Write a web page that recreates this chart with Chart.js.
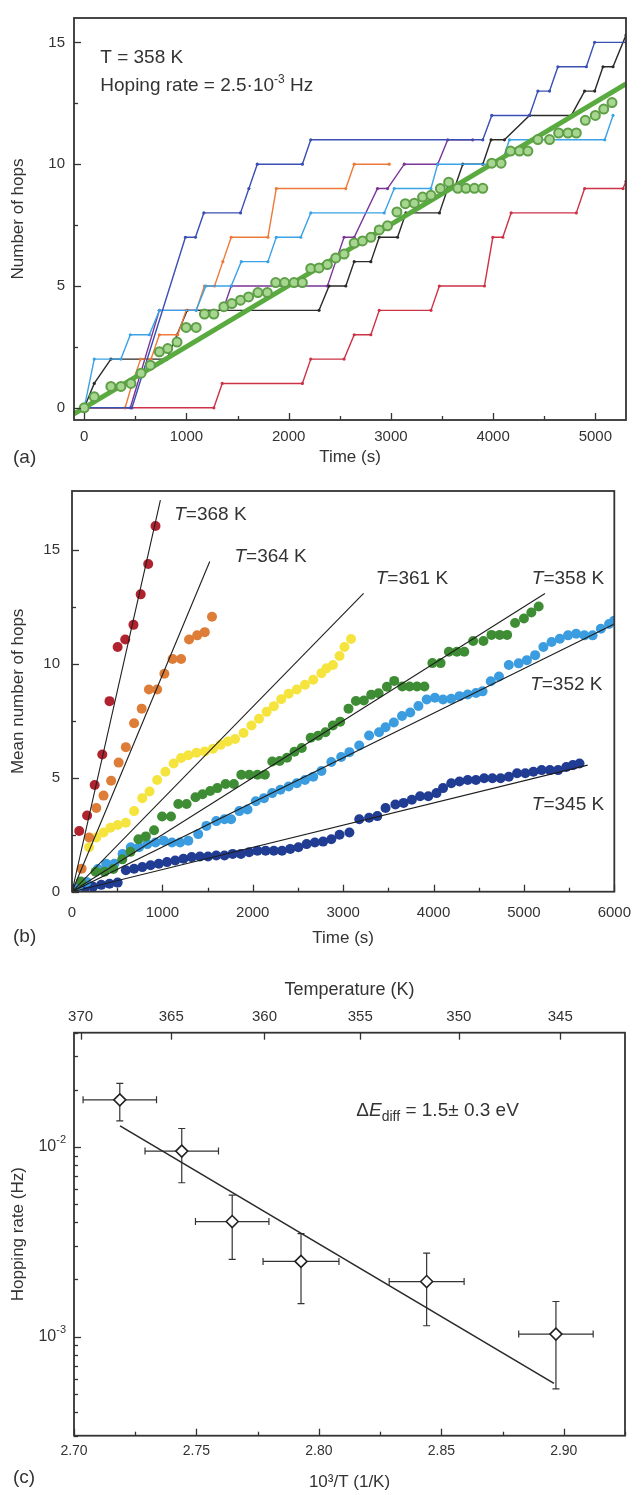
<!DOCTYPE html>
<html>
<head>
<meta charset="utf-8">
<script src="https://cdn.jsdelivr.net/npm/chart.js@4/dist/chart.umd.min.js"></script>
<style>
  body { margin: 0; background: #fff; }
  #wrap { position: relative; width: 643px; height: 1495px; }
  canvas { position: absolute; left: 0; }
</style>
</head>
<body>
<div id="wrap">
  <canvas id="chartA" width="643" height="475" style="top:0"></canvas>
  <canvas id="chartB" width="643" height="490" style="top:470px"></canvas>
  <canvas id="chartC" width="643" height="535" style="top:960px"></canvas>
</div>
<script>
// ---- panel (a): single trajectories at 358 K, time (s) vs hops ----
const redT = [0, 1268, 1350, 2134, 2216, 2542, 2641, 2804, 2886, 3392, 3474, 3915, 3997, 4095, 4176, 4814, 4895, 5271, 5300];
const redN = [0, 0, 1, 1, 2, 2, 3, 3, 4, 4, 5, 5, 7, 7, 8, 8, 9, 9, 9.3];
const purpleT = [0, 451, 735, 1356, 1438, 2379, 2460, 2542, 2641, 2869, 2967, 3131, 3458, 3556, 3800];
const purpleN = [0, 0, 4, 4, 5, 5, 6, 7, 7, 9, 9, 10, 10, 11, 11];
const blackT = [0, 98, 261, 810, 908, 1007, 2297, 2395, 2559, 2641, 2804, 2886, 3065, 3147, 3475, 3556, 3621, 3703, 3899, 3980, 4111, 4356, 4765, 4895, 4994, 5075, 5173, 5300];
const blackN = [0, 1, 2, 2, 3, 4, 4, 5, 5, 6, 6, 7, 7, 8, 8, 9, 9, 10, 10, 11, 11, 12, 12, 13, 13, 14, 14, 15.3];
const orangeT = [0, 400, 470, 552, 654, 735, 915, 997, 1095, 1176, 1275, 1356, 1438, 1797, 1879, 2559, 2641, 2983];
const orangeN = [0, 0, 1, 2, 2, 3, 3, 4, 4, 5, 5, 6, 7, 7, 9, 9, 10, 10];
const lightT = [0, 98, 359, 451, 637, 735, 1095, 1190, 1438, 1536, 1797, 1879, 2118, 2216, 2935, 3033, 3392, 3458, 4078, 4160, 5092, 5173];
const lightN = [0, 2, 2, 3, 3, 4, 4, 5, 5, 6, 6, 7, 7, 8, 8, 9, 9, 10, 10, 11, 11, 12];
const navyT = [0, 467, 990, 1088, 1170, 1529, 1611, 1693, 2134, 2216, 3899, 3987, 4356, 4438, 4552, 4634, 4912, 4993, 5300];
const navyN = [0, 0, 7, 7, 8, 8, 9, 10, 10, 11, 11, 12, 12, 13, 13, 14, 14, 15, 15];
const fitA_T = [-100, 5300];
const fitA_N = [-0.25, 13.3];

// mean number of hops at 358 K (shown in (a) and (b))
const t358 = [0, 98, 261, 359, 457, 556, 647, 735, 817, 908, 997, 1095, 1176, 1268, 1366, 1444, 1529, 1608, 1699, 1791, 1873, 1961, 2052, 2134, 2216, 2297, 2379, 2461, 2542, 2641, 2722, 2804, 2886, 2967, 3059, 3141, 3229, 3310, 3392, 3484, 3565, 3654, 3735, 3817, 3899, 3987, 4078, 4170, 4258, 4340, 4438, 4552, 4641, 4732, 4814, 4902, 5000, 5082, 5163];
const n358 = [0, 0.45, 0.88, 0.88, 1.0, 1.42, 1.75, 2.3, 2.43, 2.7, 3.3, 3.3, 3.85, 3.85, 4.15, 4.28, 4.42, 4.55, 4.73, 4.73, 5.14, 5.14, 5.14, 5.14, 5.72, 5.74, 5.88, 6.15, 6.31, 6.76, 6.85, 7.0, 7.3, 7.47, 8.04, 8.38, 8.4, 8.65, 8.72, 9.0, 9.26, 9.01, 9.01, 9.01, 9.01, 10.04, 10.04, 10.54, 10.54, 10.54, 11.01, 11.01, 11.28, 11.28, 11.28, 11.8, 12.0, 12.26, 12.53];

// ---- panel (b): mean number of hops at each temperature ----
const t368 = [80, 167, 251, 335, 415, 505, 589, 680, 760, 843, 924];
const n368 = [2.67, 3.35, 4.69, 6.03, 8.37, 10.75, 11.08, 11.72, 13.06, 14.39, 16.06];
const t364 = [106, 189, 269, 349, 433, 516, 596, 687, 771, 851, 942, 1022, 1113, 1207, 1295, 1385, 1469, 1549];
const n364 = [1.01, 2.38, 3.68, 4.22, 4.87, 5.67, 6.35, 7.4, 8.04, 8.88, 8.88, 9.57, 10.22, 10.22, 11.08, 11.26, 11.4, 12.08];
const t361 = [189, 269, 349, 425, 505, 596, 687, 778, 858, 942, 1033, 1124, 1207, 1287, 1378, 1469, 1560, 1644, 1724, 1804, 1898, 1985, 2069, 2153, 2233, 2315, 2397, 2487, 2578, 2669, 2760, 2815, 2887, 2960, 3014, 3087];
const n361 = [1.95, 2.38, 2.6, 2.81, 2.93, 3.03, 3.54, 4.11, 4.4, 4.91, 5.27, 5.63, 5.87, 5.99, 6.1, 6.16, 6.28, 6.45, 6.6, 6.71, 6.97, 7.3, 7.6, 7.9, 8.15, 8.45, 8.7, 8.88, 9.09, 9.31, 9.6, 9.81, 9.96, 10.35, 10.75, 11.1];
const t352 = [69, 160, 287, 378, 469, 560, 651, 742, 833, 924, 1015, 1106, 1196, 1287, 1396, 1487, 1596, 1687, 1760, 1851, 1942, 2033, 2124, 2215, 2306, 2397, 2487, 2578, 2669, 2760, 2869, 2978, 3069, 3178, 3287, 3397, 3469, 3560, 3651, 3742, 3833, 3924, 4015, 4105, 4196, 4287, 4378, 4469, 4542, 4633, 4724, 4833, 4942, 5033, 5124, 5215, 5306, 5397, 5488, 5578, 5669, 5760, 5851, 5942, 5997];
const n352 = [0.22, 0.43, 1.0, 1.23, 1.23, 1.66, 1.95, 1.95, 2.09, 2.16, 2.24, 2.16, 2.16, 2.24, 2.53, 2.89, 3.1, 3.18, 3.18, 3.54, 3.61, 3.97, 4.11, 4.33, 4.48, 4.62, 4.76, 4.91, 5.05, 5.3, 5.7, 5.92, 6.13, 6.42, 6.86, 7.0, 7.22, 7.43, 7.72, 7.87, 8.16, 8.44, 8.52, 8.44, 8.47, 8.59, 8.66, 8.73, 8.8, 9.24, 9.45, 9.96, 10.03, 10.17, 10.39, 10.75, 10.97, 11.11, 11.26, 11.33, 11.26, 11.26, 11.55, 11.76, 11.9];
const t345 = [51, 142, 233, 324, 415, 505, 596, 687, 778, 869, 960, 1051, 1142, 1233, 1324, 1415, 1505, 1596, 1687, 1778, 1869, 1960, 2051, 2142, 2233, 2324, 2415, 2505, 2596, 2687, 2778, 2869, 2960, 3069, 3178, 3287, 3378, 3469, 3578, 3669, 3760, 3851, 3942, 4033, 4105, 4196, 4287, 4378, 4469, 4560, 4651, 4742, 4833, 4924, 5015, 5105, 5196, 5287, 5378, 5469, 5542, 5615];
const n345 = [0.07, 0.15, 0.22, 0.3, 0.35, 0.4, 0.94, 1.01, 1.08, 1.16, 1.23, 1.3, 1.37, 1.45, 1.52, 1.55, 1.55, 1.59, 1.59, 1.66, 1.66, 1.73, 1.8, 1.8, 1.8, 1.8, 1.88, 1.95, 2.09, 2.16, 2.2, 2.3, 2.5, 2.6, 3.18, 3.25, 3.32, 3.68, 3.83, 3.9, 4.04, 4.19, 4.19, 4.33, 4.55, 4.76, 4.84, 4.91, 4.91, 4.98, 4.98, 4.98, 5.05, 5.2, 5.2, 5.27, 5.34, 5.34, 5.34, 5.48, 5.56, 5.63];
// fitted lines from the origin: end time and end value
const tempLabels = ['368', '364', '361', '358', '352', '345'];
const fitEndT = [978, 1524, 3226, 5233, 6000, 5705];
const fitEndN = [17.2, 14.5, 13.1, 13.1, 11.76, 5.56];

// ---- panel (c): Arrhenius plot ----
const invT = [2.7187, 2.744, 2.7646, 2.7927, 2.844, 2.8968];
const invTErr = [0.015, 0.015, 0.015, 0.0155, 0.0153, 0.0152];
const rate = [0.0177, 0.0095, 0.00404, 0.00249, 0.00195, 0.00103];
const rateHi = [0.0216, 0.0125, 0.00557, 0.00349, 0.00275, 0.00153];
const rateLo = [0.0137, 0.00647, 0.00255, 0.00149, 0.00114, 0.00053];
const fitC_X = [2.7188, 2.896];
const fitC_Y = [0.0129, 0.000566];
const tempTicks = [370, 365, 360, 355, 350, 345];
const rateTicks = [0.001, 0.01];
const rateTickExp = ['-3', '-2'];

const FONT = '"Liberation Sans", Arial, Helvetica, sans-serif';
const INK = '#333';
Chart.defaults.font.family = FONT;
Chart.defaults.color = INK;

const pts = (xs, ys) => xs.map((x, i) => ({x: x, y: ys[i]}));
const range = (a, b, s) => { const r = []; for (let v = a; v <= b + 1e-9; v += s) r.push(+v.toFixed(6)); return r; };

// inward tick marks + frame
const frameTicks = {
  id: 'frameTicks',
  afterDatasetsDraw(chart, args, opts) {
    const {ctx, chartArea: a} = chart;
    ctx.save();
    ctx.strokeStyle = INK;
    (opts.marks || []).forEach(m => {
      const s = chart.scales[m.axis];
      ctx.lineWidth = 1.3;
      m.values.forEach(v => {
        const p = Math.round(s.getPixelForValue(v)) + 0.5;
        ctx.beginPath();
        if (m.edge === 'bottom') { ctx.moveTo(p, a.bottom); ctx.lineTo(p, a.bottom - m.len); }
        else if (m.edge === 'top') { ctx.moveTo(p, a.top); ctx.lineTo(p, a.top + m.len); }
        else { ctx.moveTo(a.left, p); ctx.lineTo(a.left + m.len, p); }
        ctx.stroke();
      });
    });
    ctx.lineWidth = 1.8;
    ctx.strokeRect(a.left, a.top, a.right - a.left, a.bottom - a.top);
    ctx.restore();
  }
};

// text notes: data coords (x,y) or pixel coords (px,py)
const notes = {
  id: 'notes',
  afterDraw(chart, args, opts) {
    const ctx = chart.ctx;
    ctx.save();
    ctx.fillStyle = INK;
    ctx.textBaseline = 'middle';
    (opts.items || []).forEach(it => {
      let x = it.px != null ? it.px : chart.scales[it.xAxis || 'x'].getPixelForValue(it.x);
      const y = it.py != null ? it.py : chart.scales.y.getPixelForValue(it.y);
      if (it.align === 'right') {
        let w = 0;
        it.parts.forEach(p => { ctx.font = p.font; w += ctx.measureText(p.text).width; });
        x -= w;
      }
      it.parts.forEach(p => {
        ctx.font = p.font;
        ctx.fillText(p.text, x, y + (p.dy || 0));
        x += ctx.measureText(p.text).width;
      });
    });
    ctx.restore();
  }
};

const F = (size, style) => (style ? style + ' ' : '') + size + 'px ' + FONT;

function xAxis(min, max, ticks, height, pad, title, titlePad, fmt) {
  return {
    type: 'linear', position: 'bottom', min: min, max: max,
    afterBuildTicks: s => { s.ticks = ticks.map(v => ({value: v})); },
    afterFit: s => { s.height = height; },
    grid: {display: false, drawTicks: false}, border: {display: false},
    ticks: {font: {size: 15}, color: INK, padding: pad, maxRotation: 0, callback: fmt || (v => v)},
    title: {display: true, text: title, font: {size: 17}, color: INK, padding: {top: 0, bottom: titlePad}}
  };
}
function yAxis(min, max, ticks, width, pad, title, fmt, type) {
  return {
    type: type || 'linear', position: 'left', min: min, max: max,
    afterBuildTicks: s => { s.ticks = ticks.map(v => ({value: v})); },
    afterFit: s => { s.width = width; },
    grid: {display: false, drawTicks: false}, border: {display: false},
    ticks: {font: {size: 15}, color: INK, padding: pad, callback: fmt || (v => v)},
    title: {display: true, text: title, font: {size: 17}, color: INK, padding: {top: 8, bottom: 0}}
  };
}

const base = {
  responsive: false, animation: false, events: [],
  plugins: {legend: {display: false}, tooltip: {enabled: false}}
};

// ---------------- panel (a) ----------------
function stepSet(ts, ns, color, order) {
  return {data: pts(ts, ns), showLine: true, borderColor: color, backgroundColor: color,
    borderWidth: 1.4, pointRadius: 1.6, pointBorderWidth: 0, order: order};
}
new Chart(document.getElementById('chartA'), {
  type: 'scatter',
  data: {datasets: [
    stepSet(redT, redN, '#cc3346', 8),
    stepSet(purpleT, purpleN, '#7a3596', 7),
    stepSet(blackT, blackN, '#2a2a2a', 6),
    stepSet(orangeT, orangeN, '#ee7a3a', 5),
    stepSet(lightT, lightN, '#3aa2e6', 4),
    stepSet(navyT, navyN, '#3a4fb2', 3),
    {data: pts(fitA_T, fitA_N), showLine: true, borderColor: '#5aab3f', borderWidth: 5, pointRadius: 0, order: 2},
    {data: pts(t358, n358), backgroundColor: '#a6d68f', borderColor: '#5e9f47', borderWidth: 2, pointRadius: 4.5, order: 1}
  ]},
  options: Object.assign({}, base, {
    layout: {padding: {left: 0, top: 14, right: 17, bottom: 0}},
    scales: {
      x: xAxis(-100, 5300, range(0, 5000, 1000), 55, 8, 'Time (s)', 7),
      y: yAxis(-0.5, 16, [0, 5, 10, 15], 74, 9, 'Number of hops')
    },
    plugins: Object.assign({}, base.plugins, {
      frameTicks: {marks: [
        {axis: 'x', edge: 'bottom', len: 7, values: range(0, 5000, 1000)},
        {axis: 'x', edge: 'bottom', len: 4, values: range(500, 4500, 1000)},
        {axis: 'y', edge: 'left', len: 7, values: [0, 5, 10, 15]},
        {axis: 'y', edge: 'left', len: 4, values: [2.5, 7.5, 12.5]}
      ]},
      notes: {items: [
        {x: 157, y: 14.35, parts: [{text: 'T = 358 K', font: F(19)}]},
        {x: 157, y: 13.2, parts: [
          {text: 'Hoping rate = 2.5\u00b710', font: F(19)},
          {text: '-3', font: F(12), dy: -7},
          {text: ' Hz', font: F(19)}
        ]},
        {px: 13, py: 458, parts: [{text: '(a)', font: F(19)}]}
      ]}
    })
  }),
  plugins: [frameTicks, notes]
});

// ---------------- panel (b) ----------------
const seriesB = [[t368, n368, '#b0232e'], [t364, n364, '#de7d38'], [t361, n361, '#f6e43e'],
                 [t358, n358, '#3e8d35'], [t352, n352, '#3b9de0'], [t345, n345, '#213c93']];
const dsB = seriesB.map((s, i) => ({data: pts(s[0], s[1]), backgroundColor: s[2], borderWidth: 0, pointRadius: 5, order: 2 + i}));
fitEndT.forEach((t, i) => dsB.push({data: pts([0, t], [0, fitEndN[i]]), showLine: true,
  borderColor: '#1e1e1e', borderWidth: 1.1, pointRadius: 0, order: 1}));
const labelPosB = [[1131, 16.55], [1797, 14.72], [3360, 13.75], [5087, 13.75], [5069, 9.09], [5087, 3.83]];
new Chart(document.getElementById('chartB'), {
  type: 'scatter',
  data: {datasets: dsB},
  options: Object.assign({}, base, {
    layout: {padding: {left: 0, top: 15, right: 21, bottom: 0}},
    scales: {
      x: xAxis(0, 6000, range(0, 6000, 1000), 68.3, 12, 'Time (s)', 11),
      y: yAxis(0, 17.6, [0, 5, 10, 15], 72, 12, 'Mean number of hops')
    },
    plugins: Object.assign({}, base.plugins, {
      frameTicks: {marks: [
        {axis: 'x', edge: 'bottom', len: 7, values: range(0, 6000, 1000)},
        {axis: 'x', edge: 'bottom', len: 4, values: range(500, 5500, 1000)},
        {axis: 'y', edge: 'left', len: 7, values: [0, 5, 10, 15]},
        {axis: 'y', edge: 'left', len: 4, values: [2.5, 7.5, 12.5]}
      ]},
      notes: {items: tempLabels.map((lab, i) => ({x: labelPosB[i][0], y: labelPosB[i][1], parts: [
        {text: 'T', font: F(19, 'italic')}, {text: '=' + lab + ' K', font: F(19)}
      ]})).concat([{px: 13, py: 467, parts: [{text: '(b)', font: F(19)}]}])}
    })
  }),
  plugins: [frameTicks, notes]
});

// ---------------- panel (c) ----------------
const errorBars = {
  id: 'errorBars',
  beforeDatasetsDraw(chart) {
    const {ctx} = chart, sx = chart.scales.x, sy = chart.scales.y;
    ctx.save();
    ctx.strokeStyle = '#333';
    ctx.lineWidth = 1.2;
    invT.forEach((t, i) => {
      const x = sx.getPixelForValue(t), y = sy.getPixelForValue(rate[i]);
      const x0 = sx.getPixelForValue(t - invTErr[i]), x1 = sx.getPixelForValue(t + invTErr[i]);
      const y0 = sy.getPixelForValue(rateLo[i]), y1 = sy.getPixelForValue(rateHi[i]);
      ctx.beginPath();
      ctx.moveTo(x0, y); ctx.lineTo(x1, y);
      ctx.moveTo(x0, y - 3.5); ctx.lineTo(x0, y + 3.5);
      ctx.moveTo(x1, y - 3.5); ctx.lineTo(x1, y + 3.5);
      ctx.moveTo(x, y0); ctx.lineTo(x, y1);
      ctx.moveTo(x - 3.5, y0); ctx.lineTo(x + 3.5, y0);
      ctx.moveTo(x - 3.5, y1); ctx.lineTo(x + 3.5, y1);
      ctx.stroke();
    });
    ctx.restore();
  }
};
const minorC = [];
[0.0001, 0.001, 0.01].forEach(d => { for (let k = 2; k <= 9; k++) { const v = +(k * d).toPrecision(3); if (v >= 0.0003 && v <= 0.04) minorC.push(v); } });
const xTicksC = range(2.70, 2.90, 0.05);
const x2Ticks = tempTicks.map(T => 1000 / T);
const scalesC = {
  x: xAxis(2.70, 2.925, xTicksC, 59.3, 7, '10\u00b3/T (1/K)', 2, v => v.toFixed(2)),
  x2: {
    type: 'linear', position: 'top', axis: 'x', min: 2.70, max: 2.925,
    afterBuildTicks: s => { s.ticks = x2Ticks.map(v => ({value: v})); },
    afterFit: s => { s.height = 72.7; },
    grid: {display: false, drawTicks: false}, border: {display: false},
    ticks: {font: {size: 15}, color: INK, padding: 7, maxRotation: 0,
      callback: (v, i) => String(tempTicks[i])},
    title: {display: true, text: 'Temperature (K)', font: {size: 18}, color: INK, padding: {top: 19, bottom: 0}}
  },
  // labels of the log axis are drawn below with real superscripts
  y: yAxis(0.0003, 0.04, rateTicks, 74, 9, 'Hopping rate (Hz)', () => '', 'logarithmic')
};
scalesC.x.ticks.font = {size: 14};
new Chart(document.getElementById('chartC'), {
  type: 'scatter',
  data: {datasets: [
    {data: pts(fitC_X, fitC_Y), showLine: true, borderColor: '#2a2a2a', borderWidth: 1.6, pointRadius: 0, order: 2},
    {data: pts(invT, rate), pointStyle: 'rectRot', pointRadius: 6, backgroundColor: '#fff',
      borderColor: '#222', borderWidth: 1.6, order: 1}
  ]},
  options: Object.assign({}, base, {
    layout: {padding: {left: 0, top: 0, right: 18, bottom: 0}},
    scales: scalesC,
    plugins: Object.assign({}, base.plugins, {
      frameTicks: {marks: [
        {axis: 'x', edge: 'bottom', len: 7, values: xTicksC},
        {axis: 'x', edge: 'bottom', len: 4, values: range(2.725, 2.925, 0.05)},
        {axis: 'x2', edge: 'top', len: 7, values: x2Ticks},
        {axis: 'y', edge: 'left', len: 7, values: rateTicks},
        {axis: 'y', edge: 'left', len: 4, values: minorC}
      ]},
      notes: {items: rateTicks.map((v, i) => ({px: 66, y: v, align: 'right', parts: [
        {text: '10', font: F(16)}, {text: rateTickExp[i], font: F(11), dy: -7}
      ]})).concat([
        {x: 2.8153, y: 0.0155, parts: [
          {text: '\u0394', font: F(19)}, {text: 'E', font: F(19, 'italic')},
          {text: 'diff', font: F(14), dy: 6}, {text: ' = 1.5\u00b1 0.3 eV', font: F(19)}
        ]},
        {px: 13, py: 518, parts: [{text: '(c)', font: F(19)}]}
      ])}
    })
  }),
  plugins: [errorBars, frameTicks, notes]
});
</script>
</body>
</html>
